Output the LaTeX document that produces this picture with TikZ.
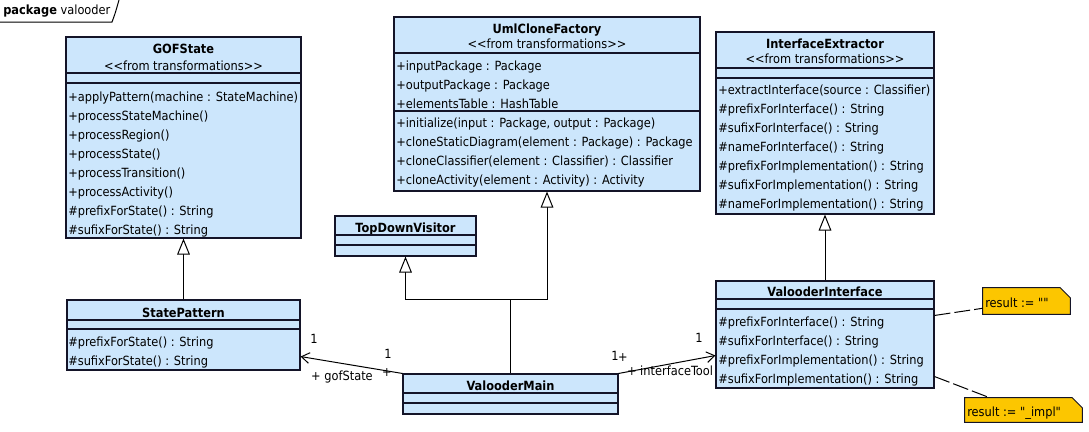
\documentclass[tikz,border=0pt]{standalone}
\usepackage{fontspec}
\setmainfont{DejaVu Sans Condensed}
\newfontfamily\plainfont{DejaVu Sans Condensed}
\usetikzlibrary{arrows.meta,fit,calc}
\definecolor{clsfill}{RGB}{204,230,252}
\definecolor{notefill}{RGB}{252,198,0}
\definecolor{clsline}{RGB}{20,20,40}
\newcommand\umlops[4]{%
  \foreach \t [count=\i] in {#4} {\node[txt,anchor=base west] (#1-\i) at (#2,{#3+19*(\i-1)}) {\t};}}
\begin{document}
\begin{tikzpicture}[x=0.75pt,y=-0.75pt,
  txt/.style={inner sep=0pt,font=\fontsize{9.5}{11}\selectfont},
  cname/.style={inner sep=0pt,font=\fontsize{9.5}{11}\selectfont\bfseries,anchor=base},
  stereo/.style={inner sep=0pt,font=\fontsize{9.5}{11}\selectfont,anchor=base},
  cls/.style={draw=clsline,fill=clsfill,line width=0.8pt,inner sep=0pt},
  sep/.style={draw=clsline,line width=0.8pt},
  gen/.style={draw=black,line width=0.75pt,-{Triangle[open,length=12pt,width=9.5pt,fill=white]}},
  assoc/.style={draw=black,line width=0.75pt,-{Straight Barb[length=6pt,width=8pt]}},
  notebox/.style={draw=clsline,fill=notefill,line width=0.75pt},
  notelink/.style={draw=black,line width=0.75pt,dash pattern=on 12pt off 3pt}]
\fill[white] (0,0) rectangle (1089,432);
\useasboundingbox (0,0) rectangle (1089,432);
% package tab
\draw[line width=0.75pt] (0,22) -- (112,22) .. controls (115,14) .. (119,0);
\node[txt,anchor=base west] (pkg) at (3,14) {\textbf{package} valooder};

% GOFState
\node[cls,fit={(66,37)(301,238)}] (gof) {};
\node[cname] (gof-n) at (183.5,53) {GOFState};
\node[stereo] (gof-s) at (183.5,70) {<{}<from transformations>{}>};
\draw[sep] (gof.west |- 0,73) -- (gof.east |- 0,73);
\draw[sep] (gof.west |- 0,83) -- (gof.east |- 0,83);
\umlops{gof}{68}{101}{{+applyPattern(machine : StateMachine)},{+processStateMachine()},{+processRegion()},{+processState()},{+processTransition()},{+processActivity()},{\#prefixForState() : String},{\#sufixForState() : String}}

% StatePattern
\node[cls,fit={(67,300)(300,370)}] (sp) {};
\node[cname] (sp-n) at (183.5,317) {StatePattern};
\draw[sep] (sp.west |- 0,320) -- (sp.east |- 0,320);
\draw[sep] (sp.west |- 0,329) -- (sp.east |- 0,329);
\umlops{sp}{68}{346}{{\#prefixForState() : String},{\#sufixForState() : String}}

% UmlCloneFactory
\node[cls,fit={(394,17)(700,191)}] (ucf) {};
\node[cname] (ucf-n) at (547,33) {UmlCloneFactory};
\node[stereo] (ucf-s) at (547,48) {<{}<from transformations>{}>};
\draw[sep] (ucf.west |- 0,53) -- (ucf.east |- 0,53);
\draw[sep] (ucf.west |- 0,111) -- (ucf.east |- 0,111);
\umlops{ucfa}{396}{70}{{+inputPackage : Package},{+outputPackage : Package},{+elementsTable : HashTable}}
\umlops{ucf}{396}{127}{{+initialize(input : Package, output : Package)},{+cloneStaticDiagram(element : Package) : Package},{+cloneClassifier(element : Classifier) : Classifier},{+cloneActivity(element : Activity) : Activity}}

% InterfaceExtractor
\node[cls,fit={(716,32)(934,214)}] (ie) {};
\node[cname] (ie-n) at (825,48) {InterfaceExtractor};
\node[stereo] (ie-s) at (825,63) {<{}<from transformations>{}>};
\draw[sep] (ie.west |- 0,68) -- (ie.east |- 0,68);
\draw[sep] (ie.west |- 0,78) -- (ie.east |- 0,78);
\umlops{ie}{718}{94}{{+extractInterface(source : Classifier)},{\#prefixForInterface() : String},{\#sufixForInterface() : String},{\#nameForInterface() : String},{\#prefixForImplementation() : String},{\#sufixForImplementation() : String},{\#nameForImplementation() : String}}

% TopDownVisitor
\node[cls,fit={(335,216)(476,256)}] (tdv) {};
\node[cname] (tdv-n) at (405.5,232) {TopDownVisitor};
\draw[sep] (tdv.west |- 0,235) -- (tdv.east |- 0,235);
\draw[sep] (tdv.west |- 0,245) -- (tdv.east |- 0,245);

% ValooderMain
\node[cls,fit={(403,374)(618,414)}] (vm) {};
\node[cname] (vm-n) at (510.5,390) {ValooderMain};
\draw[sep] (vm.west |- 0,393) -- (vm.east |- 0,393);
\draw[sep] (vm.west |- 0,403) -- (vm.east |- 0,403);

% ValooderInterface
\node[cls,fit={(716,281)(934,388)}] (vi) {};
\node[cname] (vi-n) at (825,296) {ValooderInterface};
\draw[sep] (vi.west |- 0,299) -- (vi.east |- 0,299);
\draw[sep] (vi.west |- 0,309) -- (vi.east |- 0,309);
\umlops{vi}{718}{326}{{\#prefixForInterface() : String},{\#sufixForInterface() : String},{\#prefixForImplementation() : String},{\#sufixForImplementation() : String}}

% notes
\path node[inner sep=0pt,fit={(983,288)(1070,314)}] (n1) {};
\draw[notebox] (n1.south west) -- (n1.north west) -- ($(n1.north east)+(-10,0)$) -- ($(n1.north east)+(0,10)$) -- (n1.south east) -- cycle;
\node[txt,anchor=base west] (n1-t) at (985,307) {\plainfont result := ""};
\path node[inner sep=0pt,fit={(965,398)(1082,422)}] (n2) {};
\draw[notebox] (n2.south west) -- (n2.north west) -- ($(n2.north east)+(-10,0)$) -- ($(n2.north east)+(0,10)$) -- (n2.south east) -- cycle;
\node[txt,anchor=base west] (n2-t) at (967,416) {\plainfont result := "\_impl"};
\draw[notelink] ($(vi.north east)+(0,35)$) -- ($(n1.south west)+(0,-6)$);
\draw[notelink] ($(vi.south east)+(0,-12)$) -- ($(n2.north west)+(25,0)$);

% generalizations
\draw[gen] (sp.north) -- (gof.south);
\draw[gen] (vi.north) -- (ie.south);
\coordinate (j) at (vm.north |- 0,299);
\draw[line width=0.75pt] (vm.north) -- (j);
\draw[gen] (j) -| (tdv.south);
\draw[gen] (j) -| (ucf.south);

% associations
\draw[assoc] (vm.north west) -- ($(sp.south east)+(0,-14)$);
\draw[assoc] (vm.north east) -- ($(vi.south west)+(0,-33)$);
\node[txt] (l1) at (314,339) {1};
\node[txt] (l2) at (342,377) {+ gofState};
\node[txt] (l3) at (388,354) {1};
\node[txt] (l4) at (387,373) {+};
\node[txt] (l5) at (615,356) {1};
\node[txt] (l6) at (623,358) {+};
\node[txt] (l7) at (670,371) {+ interfaceTool};
\node[txt] (l8) at (699,338) {1};
\end{tikzpicture}
\end{document}
